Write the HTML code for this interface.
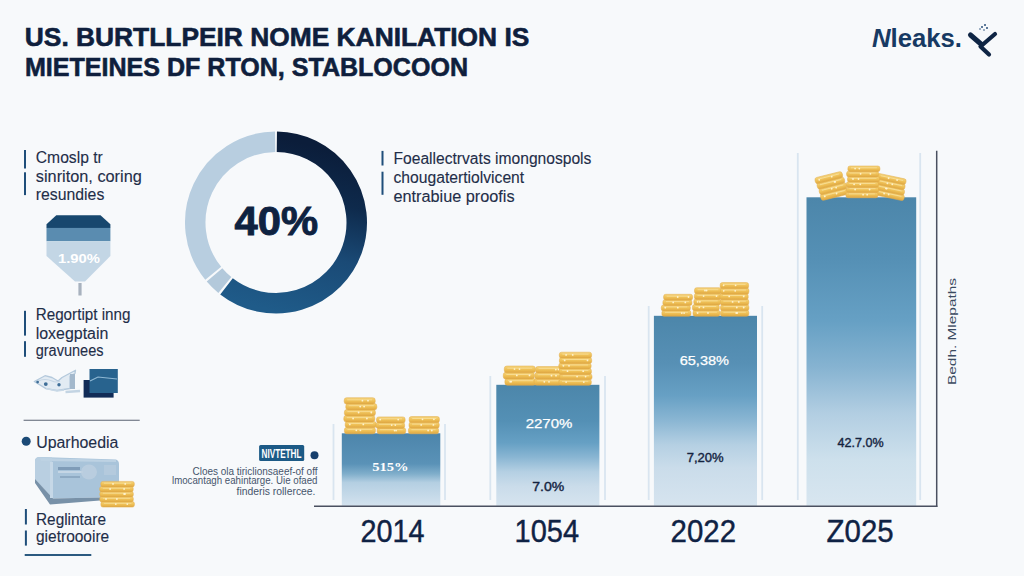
<!DOCTYPE html>
<html><head><meta charset="utf-8"><style>
html,body{margin:0;padding:0;background:#f7f9fb;width:1024px;height:576px;overflow:hidden}
svg{display:block}
text{font-family:"Liberation Sans",sans-serif}
</style></head><body>
<svg width="1024" height="576" viewBox="0 0 1024 576">
<defs>
<linearGradient id="bg4" x1="0" y1="0" x2="0" y2="1">
<stop offset="0" stop-color="#4c86aa"/><stop offset="0.2" stop-color="#5590b5"/><stop offset="0.4" stop-color="#66a0c4"/><stop offset="0.55" stop-color="#86b3d1"/><stop offset="0.7" stop-color="#b2cee2"/><stop offset="0.85" stop-color="#cde0ec"/><stop offset="1" stop-color="#d8e6f0"/>
</linearGradient>
<linearGradient id="bg3" x1="0" y1="0" x2="0" y2="1">
<stop offset="0" stop-color="#4c86aa"/><stop offset="0.25" stop-color="#5790b5"/><stop offset="0.42" stop-color="#67a0c4"/><stop offset="0.55" stop-color="#8ab6d3"/><stop offset="0.68" stop-color="#b5d0e3"/><stop offset="0.8" stop-color="#cadcea"/><stop offset="1" stop-color="#d6e4ef"/>
</linearGradient>
<linearGradient id="bg2" x1="0" y1="0" x2="0" y2="1">
<stop offset="0" stop-color="#4c86aa"/><stop offset="0.3" stop-color="#5490b5"/><stop offset="0.48" stop-color="#66a0c4"/><stop offset="0.6" stop-color="#8ab6d3"/><stop offset="0.72" stop-color="#b5d0e3"/><stop offset="0.84" stop-color="#cadcea"/><stop offset="1" stop-color="#d6e4ef"/>
</linearGradient>
<linearGradient id="bg1" x1="0" y1="0" x2="0" y2="1">
<stop offset="0" stop-color="#4c85ab"/><stop offset="0.42" stop-color="#5a92b7"/><stop offset="0.56" stop-color="#80aecb"/><stop offset="0.68" stop-color="#b4cfe2"/><stop offset="1" stop-color="#d3e2ee"/>
</linearGradient>
<linearGradient id="ring" gradientUnits="userSpaceOnUse" x1="290" y1="140" x2="250" y2="305">
<stop offset="0" stop-color="#0b1d3a"/><stop offset="0.3" stop-color="#0e2a4c"/><stop offset="0.62" stop-color="#1a4a76"/><stop offset="1" stop-color="#1f5b89"/>
</linearGradient>
<linearGradient id="coin" x1="0" y1="0" x2="0" y2="1">
<stop offset="0" stop-color="#f5d47c"/><stop offset="0.5" stop-color="#efc157"/><stop offset="1" stop-color="#dfa742"/>
</linearGradient>
<clipPath id="funclip"><polygon points="56.3,215.3 100.5,215.3 110.4,224.2 110.4,256 85,281.5 75,281.5 46.5,256 46.5,224.2"/></clipPath>
</defs>
<rect width="1024" height="576" fill="#f7f9fb"/>

<g font-weight="bold" fill="#0f1f3d" stroke="#0f1f3d" stroke-width="0.6" font-size="26">
<text x="24.8" y="46" textLength="504.5" lengthAdjust="spacingAndGlyphs">US. BURTLLPEIR NOME KANILATION IS</text>
<text x="25" y="75.5" textLength="443" lengthAdjust="spacingAndGlyphs">MIETEINES DF RTON, STABLOCOON</text>
</g>
<text x="872" y="47" font-size="26" font-weight="bold" fill="#173a63" textLength="90" lengthAdjust="spacingAndGlyphs"><tspan font-style="italic">N</tspan>leaks.</text>
<g stroke="#0f2544" stroke-width="4.2" stroke-linecap="round" stroke-linejoin="round" fill="none">
<path d="M970.5 35 L981.5 44.5" stroke-width="5"/><path d="M995 34 L980.5 46.5 L989 54.5"/>
</g>
<g fill="#2a4f7a"><circle cx="982" cy="27" r="1"/><circle cx="985" cy="25" r="1"/><circle cx="987" cy="28" r="1"/><circle cx="984" cy="30" r="0.8"/><circle cx="980" cy="29" r="0.8"/></g>
<path d="M276.85 141.75 A80.75 80.75 0 1 1 226.51 286.31" fill="none" stroke="url(#ring)" stroke-width="20.5"/>
<path d="M224.85 284.99 A80.75 80.75 0 0 1 214.51 274.84" fill="none" stroke="#b3c9db" stroke-width="20.5"/>
<path d="M213.25 273.32 A80.75 80.75 0 0 1 275.15 141.75" fill="none" stroke="#b8cee0" stroke-width="20.5"/>
<text x="234.6" y="235.1" font-size="40" font-weight="bold" fill="#0e2241" stroke="#0e2241" stroke-width="0.9" textLength="83.5" lengthAdjust="spacingAndGlyphs">40%</text>
<line x1="333.5" y1="424" x2="333.5" y2="500" stroke="#d9e5f0" stroke-width="1.8"/>
<line x1="445" y1="424" x2="445" y2="500" stroke="#d9e5f0" stroke-width="1.8"/>
<line x1="490.3" y1="376" x2="490.3" y2="500" stroke="#d9e5f0" stroke-width="1.8"/>
<line x1="605" y1="376" x2="605" y2="500" stroke="#d9e5f0" stroke-width="1.8"/>
<line x1="648.7" y1="306" x2="648.7" y2="500" stroke="#d9e5f0" stroke-width="1.8"/>
<line x1="762.2" y1="306" x2="762.2" y2="500" stroke="#d9e5f0" stroke-width="1.8"/>
<line x1="797.8" y1="153" x2="797.8" y2="500" stroke="#d9e5f0" stroke-width="1.8"/>
<line x1="920.2" y1="153" x2="920.2" y2="500" stroke="#d9e5f0" stroke-width="1.8"/>
<rect x="341.8" y="433.3" width="98.5" height="72.5" fill="url(#bg1)"/>
<rect x="496.3" y="384.8" width="103.1" height="121" fill="url(#bg2)"/>
<rect x="653.9" y="315.8" width="103.1" height="190" fill="url(#bg3)"/>
<rect x="806.5" y="197.3" width="109.7" height="308.5" fill="url(#bg4)"/>
<rect x="344.4" y="427.4" width="31.0" height="6.4" rx="2.4" fill="url(#coin)" stroke="#e2ad4a" stroke-width="0.5"/><path d="M347.4 429.4 H372.4" stroke="#fae3a0" stroke-width="0.9" opacity="0.8"/><circle cx="360.4" cy="430.3" r="0.9" fill="#fff6d8" opacity="0.9"/><circle cx="356.3" cy="430.3" r="0.9" fill="#fff6d8" opacity="0.9"/><rect x="345.2" y="421.4" width="31.0" height="6.4" rx="2.4" fill="url(#coin)" stroke="#e2ad4a" stroke-width="0.5"/><path d="M348.2 423.5 H373.2" stroke="#fae3a0" stroke-width="0.9" opacity="0.8"/><circle cx="363.3" cy="424.4" r="0.9" fill="#fff6d8" opacity="0.9"/><circle cx="349.8" cy="424.4" r="0.9" fill="#fff6d8" opacity="0.9"/><rect x="343.8" y="415.5" width="31.0" height="6.4" rx="2.4" fill="url(#coin)" stroke="#e2ad4a" stroke-width="0.5"/><path d="M346.8 417.6 H371.8" stroke="#fae3a0" stroke-width="0.9" opacity="0.8"/><circle cx="366.9" cy="418.5" r="0.9" fill="#fff6d8" opacity="0.9"/><circle cx="353.1" cy="418.5" r="0.9" fill="#fff6d8" opacity="0.9"/><rect x="344.4" y="409.6" width="31.0" height="6.4" rx="2.4" fill="url(#coin)" stroke="#e2ad4a" stroke-width="0.5"/><path d="M347.4 411.6 H372.4" stroke="#fae3a0" stroke-width="0.9" opacity="0.8"/><circle cx="371.3" cy="412.5" r="0.9" fill="#fff6d8" opacity="0.9"/><circle cx="358.6" cy="412.5" r="0.9" fill="#fff6d8" opacity="0.9"/><rect x="345.8" y="403.6" width="31.0" height="6.4" rx="2.4" fill="url(#coin)" stroke="#e2ad4a" stroke-width="0.5"/><path d="M348.8 405.7 H373.8" stroke="#fae3a0" stroke-width="0.9" opacity="0.8"/><circle cx="360.2" cy="406.6" r="0.9" fill="#fff6d8" opacity="0.9"/><circle cx="364.1" cy="406.6" r="0.9" fill="#fff6d8" opacity="0.9"/><rect x="344.2" y="397.7" width="31.0" height="6.4" rx="2.4" fill="url(#coin)" stroke="#e2ad4a" stroke-width="0.5"/><path d="M347.2 399.8 H372.2" stroke="#fae3a0" stroke-width="0.9" opacity="0.8"/><circle cx="362.4" cy="400.7" r="0.9" fill="#fff6d8" opacity="0.9"/><circle cx="368.0" cy="400.7" r="0.9" fill="#fff6d8" opacity="0.9"/>
<rect x="377.1" y="427.8" width="28.6" height="6.0" rx="2.2" fill="url(#coin)" stroke="#e2ad4a" stroke-width="0.5"/><path d="M380.1 429.7 H402.7" stroke="#fae3a0" stroke-width="0.9" opacity="0.8"/><circle cx="396.1" cy="430.6" r="0.9" fill="#fff6d8" opacity="0.9"/><circle cx="394.6" cy="430.6" r="0.9" fill="#fff6d8" opacity="0.9"/><rect x="376.0" y="422.4" width="28.6" height="6.0" rx="2.2" fill="url(#coin)" stroke="#e2ad4a" stroke-width="0.5"/><path d="M379.0 424.3 H401.6" stroke="#fae3a0" stroke-width="0.9" opacity="0.8"/><circle cx="395.3" cy="425.1" r="0.9" fill="#fff6d8" opacity="0.9"/><circle cx="391.7" cy="425.1" r="0.9" fill="#fff6d8" opacity="0.9"/><rect x="376.5" y="416.9" width="28.6" height="6.0" rx="2.2" fill="url(#coin)" stroke="#e2ad4a" stroke-width="0.5"/><path d="M379.5 418.8 H402.1" stroke="#fae3a0" stroke-width="0.9" opacity="0.8"/><circle cx="380.2" cy="419.6" r="0.9" fill="#fff6d8" opacity="0.9"/><circle cx="398.2" cy="419.6" r="0.9" fill="#fff6d8" opacity="0.9"/>
<rect x="408.4" y="427.7" width="30.2" height="6.1" rx="2.2" fill="url(#coin)" stroke="#e2ad4a" stroke-width="0.5"/><path d="M411.4 429.7 H435.6" stroke="#fae3a0" stroke-width="0.9" opacity="0.8"/><circle cx="428.1" cy="430.5" r="0.9" fill="#fff6d8" opacity="0.9"/><circle cx="431.8" cy="430.5" r="0.9" fill="#fff6d8" opacity="0.9"/><rect x="409.0" y="422.1" width="30.2" height="6.1" rx="2.2" fill="url(#coin)" stroke="#e2ad4a" stroke-width="0.5"/><path d="M412.0 424.1 H436.2" stroke="#fae3a0" stroke-width="0.9" opacity="0.8"/><circle cx="433.4" cy="424.9" r="0.9" fill="#fff6d8" opacity="0.9"/><circle cx="421.2" cy="424.9" r="0.9" fill="#fff6d8" opacity="0.9"/><rect x="409.2" y="416.5" width="30.2" height="6.1" rx="2.2" fill="url(#coin)" stroke="#e2ad4a" stroke-width="0.5"/><path d="M412.2 418.5 H436.4" stroke="#fae3a0" stroke-width="0.9" opacity="0.8"/><circle cx="422.5" cy="419.3" r="0.9" fill="#fff6d8" opacity="0.9"/><circle cx="433.9" cy="419.3" r="0.9" fill="#fff6d8" opacity="0.9"/>
<rect x="504.9" y="378.5" width="31.0" height="6.8" rx="2.5" fill="url(#coin)" stroke="#e2ad4a" stroke-width="0.5"/><path d="M507.9 380.7 H532.9" stroke="#fae3a0" stroke-width="0.9" opacity="0.8"/><circle cx="510.2" cy="381.7" r="0.9" fill="#fff6d8" opacity="0.9"/><circle cx="511.2" cy="381.7" r="0.9" fill="#fff6d8" opacity="0.9"/><rect x="503.3" y="372.3" width="31.0" height="6.8" rx="2.5" fill="url(#coin)" stroke="#e2ad4a" stroke-width="0.5"/><path d="M506.3 374.5 H531.3" stroke="#fae3a0" stroke-width="0.9" opacity="0.8"/><circle cx="529.5" cy="375.4" r="0.9" fill="#fff6d8" opacity="0.9"/><circle cx="516.8" cy="375.4" r="0.9" fill="#fff6d8" opacity="0.9"/><rect x="504.3" y="366.0" width="31.0" height="6.8" rx="2.5" fill="url(#coin)" stroke="#e2ad4a" stroke-width="0.5"/><path d="M507.3 368.2 H532.3" stroke="#fae3a0" stroke-width="0.9" opacity="0.8"/><circle cx="514.5" cy="369.1" r="0.9" fill="#fff6d8" opacity="0.9"/><circle cx="519.5" cy="369.1" r="0.9" fill="#fff6d8" opacity="0.9"/>
<rect x="534.2" y="378.7" width="27.2" height="6.6" rx="2.4" fill="url(#coin)" stroke="#e2ad4a" stroke-width="0.5"/><path d="M537.2 380.8 H558.4" stroke="#fae3a0" stroke-width="0.9" opacity="0.8"/><circle cx="544.3" cy="381.8" r="0.9" fill="#fff6d8" opacity="0.9"/><circle cx="549.0" cy="381.8" r="0.9" fill="#fff6d8" opacity="0.9"/><rect x="534.7" y="372.6" width="27.2" height="6.6" rx="2.4" fill="url(#coin)" stroke="#e2ad4a" stroke-width="0.5"/><path d="M537.7 374.7 H558.9" stroke="#fae3a0" stroke-width="0.9" opacity="0.8"/><circle cx="556.0" cy="375.7" r="0.9" fill="#fff6d8" opacity="0.9"/><circle cx="551.5" cy="375.7" r="0.9" fill="#fff6d8" opacity="0.9"/><rect x="535.5" y="366.5" width="27.2" height="6.6" rx="2.4" fill="url(#coin)" stroke="#e2ad4a" stroke-width="0.5"/><path d="M538.5 368.6 H559.7" stroke="#fae3a0" stroke-width="0.9" opacity="0.8"/><circle cx="555.8" cy="369.6" r="0.9" fill="#fff6d8" opacity="0.9"/><circle cx="558.5" cy="369.6" r="0.9" fill="#fff6d8" opacity="0.9"/>
<rect x="559.0" y="379.4" width="32.3" height="5.9" rx="2.2" fill="url(#coin)" stroke="#e2ad4a" stroke-width="0.5"/><path d="M562.0 381.3 H588.3" stroke="#fae3a0" stroke-width="0.9" opacity="0.8"/><circle cx="566.1" cy="382.1" r="0.9" fill="#fff6d8" opacity="0.9"/><circle cx="583.8" cy="382.1" r="0.9" fill="#fff6d8" opacity="0.9"/><rect x="559.7" y="373.9" width="32.3" height="5.9" rx="2.2" fill="url(#coin)" stroke="#e2ad4a" stroke-width="0.5"/><path d="M562.7 375.8 H589.0" stroke="#fae3a0" stroke-width="0.9" opacity="0.8"/><circle cx="585.6" cy="376.6" r="0.9" fill="#fff6d8" opacity="0.9"/><circle cx="577.1" cy="376.6" r="0.9" fill="#fff6d8" opacity="0.9"/><rect x="559.1" y="368.5" width="32.3" height="5.9" rx="2.2" fill="url(#coin)" stroke="#e2ad4a" stroke-width="0.5"/><path d="M562.1 370.4 H588.4" stroke="#fae3a0" stroke-width="0.9" opacity="0.8"/><circle cx="567.5" cy="371.2" r="0.9" fill="#fff6d8" opacity="0.9"/><circle cx="583.2" cy="371.2" r="0.9" fill="#fff6d8" opacity="0.9"/><rect x="558.8" y="363.1" width="32.3" height="5.9" rx="2.2" fill="url(#coin)" stroke="#e2ad4a" stroke-width="0.5"/><path d="M561.8 365.0 H588.1" stroke="#fae3a0" stroke-width="0.9" opacity="0.8"/><circle cx="569.0" cy="365.8" r="0.9" fill="#fff6d8" opacity="0.9"/><circle cx="563.4" cy="365.8" r="0.9" fill="#fff6d8" opacity="0.9"/><rect x="559.4" y="357.6" width="32.3" height="5.9" rx="2.2" fill="url(#coin)" stroke="#e2ad4a" stroke-width="0.5"/><path d="M562.4 359.5 H588.7" stroke="#fae3a0" stroke-width="0.9" opacity="0.8"/><circle cx="587.5" cy="360.4" r="0.9" fill="#fff6d8" opacity="0.9"/><circle cx="564.7" cy="360.4" r="0.9" fill="#fff6d8" opacity="0.9"/><rect x="559.3" y="352.2" width="32.3" height="5.9" rx="2.2" fill="url(#coin)" stroke="#e2ad4a" stroke-width="0.5"/><path d="M562.3 354.1 H588.6" stroke="#fae3a0" stroke-width="0.9" opacity="0.8"/><circle cx="572.7" cy="354.9" r="0.9" fill="#fff6d8" opacity="0.9"/><circle cx="566.1" cy="354.9" r="0.9" fill="#fff6d8" opacity="0.9"/>
<rect x="661.9" y="310.4" width="29.0" height="5.9" rx="2.1" fill="url(#coin)" stroke="#e2ad4a" stroke-width="0.5"/><path d="M664.9 312.3 H687.9" stroke="#fae3a0" stroke-width="0.9" opacity="0.8"/><circle cx="681.8" cy="313.1" r="0.9" fill="#fff6d8" opacity="0.9"/><circle cx="684.1" cy="313.1" r="0.9" fill="#fff6d8" opacity="0.9"/><rect x="661.3" y="305.1" width="29.0" height="5.9" rx="2.1" fill="url(#coin)" stroke="#e2ad4a" stroke-width="0.5"/><path d="M664.3 306.9 H687.3" stroke="#fae3a0" stroke-width="0.9" opacity="0.8"/><circle cx="677.8" cy="307.7" r="0.9" fill="#fff6d8" opacity="0.9"/><circle cx="665.3" cy="307.7" r="0.9" fill="#fff6d8" opacity="0.9"/><rect x="662.9" y="299.7" width="29.0" height="5.9" rx="2.1" fill="url(#coin)" stroke="#e2ad4a" stroke-width="0.5"/><path d="M665.9 301.6 H688.9" stroke="#fae3a0" stroke-width="0.9" opacity="0.8"/><circle cx="673.2" cy="302.4" r="0.9" fill="#fff6d8" opacity="0.9"/><circle cx="685.3" cy="302.4" r="0.9" fill="#fff6d8" opacity="0.9"/><rect x="663.6" y="294.3" width="29.0" height="5.9" rx="2.1" fill="url(#coin)" stroke="#e2ad4a" stroke-width="0.5"/><path d="M666.6 296.2 H689.6" stroke="#fae3a0" stroke-width="0.9" opacity="0.8"/><circle cx="677.7" cy="297.0" r="0.9" fill="#fff6d8" opacity="0.9"/><circle cx="688.5" cy="297.0" r="0.9" fill="#fff6d8" opacity="0.9"/>
<rect x="693.0" y="310.2" width="26.9" height="6.1" rx="2.2" fill="url(#coin)" stroke="#e2ad4a" stroke-width="0.5"/><path d="M696.0 312.1 H716.9" stroke="#fae3a0" stroke-width="0.9" opacity="0.8"/><circle cx="697.6" cy="313.0" r="0.9" fill="#fff6d8" opacity="0.9"/><circle cx="708.0" cy="313.0" r="0.9" fill="#fff6d8" opacity="0.9"/><rect x="692.4" y="304.6" width="26.9" height="6.1" rx="2.2" fill="url(#coin)" stroke="#e2ad4a" stroke-width="0.5"/><path d="M695.4 306.5 H716.3" stroke="#fae3a0" stroke-width="0.9" opacity="0.8"/><circle cx="699.3" cy="307.4" r="0.9" fill="#fff6d8" opacity="0.9"/><circle cx="703.5" cy="307.4" r="0.9" fill="#fff6d8" opacity="0.9"/><rect x="693.8" y="298.9" width="26.9" height="6.1" rx="2.2" fill="url(#coin)" stroke="#e2ad4a" stroke-width="0.5"/><path d="M696.8 300.9 H717.7" stroke="#fae3a0" stroke-width="0.9" opacity="0.8"/><circle cx="699.9" cy="301.8" r="0.9" fill="#fff6d8" opacity="0.9"/><circle cx="697.6" cy="301.8" r="0.9" fill="#fff6d8" opacity="0.9"/><rect x="694.4" y="293.3" width="26.9" height="6.1" rx="2.2" fill="url(#coin)" stroke="#e2ad4a" stroke-width="0.5"/><path d="M697.4 295.3 H718.3" stroke="#fae3a0" stroke-width="0.9" opacity="0.8"/><circle cx="703.6" cy="296.1" r="0.9" fill="#fff6d8" opacity="0.9"/><circle cx="716.5" cy="296.1" r="0.9" fill="#fff6d8" opacity="0.9"/><rect x="694.5" y="287.7" width="26.9" height="6.1" rx="2.2" fill="url(#coin)" stroke="#e2ad4a" stroke-width="0.5"/><path d="M697.5 289.7 H718.4" stroke="#fae3a0" stroke-width="0.9" opacity="0.8"/><circle cx="705.0" cy="290.5" r="0.9" fill="#fff6d8" opacity="0.9"/><circle cx="706.6" cy="290.5" r="0.9" fill="#fff6d8" opacity="0.9"/>
<rect x="720.4" y="310.2" width="28.4" height="6.1" rx="2.2" fill="url(#coin)" stroke="#e2ad4a" stroke-width="0.5"/><path d="M723.4 312.2 H745.8" stroke="#fae3a0" stroke-width="0.9" opacity="0.8"/><circle cx="737.2" cy="313.0" r="0.9" fill="#fff6d8" opacity="0.9"/><circle cx="736.2" cy="313.0" r="0.9" fill="#fff6d8" opacity="0.9"/><rect x="720.5" y="304.7" width="28.4" height="6.1" rx="2.2" fill="url(#coin)" stroke="#e2ad4a" stroke-width="0.5"/><path d="M723.5 306.6 H745.9" stroke="#fae3a0" stroke-width="0.9" opacity="0.8"/><circle cx="736.8" cy="307.5" r="0.9" fill="#fff6d8" opacity="0.9"/><circle cx="743.7" cy="307.5" r="0.9" fill="#fff6d8" opacity="0.9"/><rect x="720.4" y="299.1" width="28.4" height="6.1" rx="2.2" fill="url(#coin)" stroke="#e2ad4a" stroke-width="0.5"/><path d="M723.4 301.1 H745.8" stroke="#fae3a0" stroke-width="0.9" opacity="0.8"/><circle cx="732.6" cy="301.9" r="0.9" fill="#fff6d8" opacity="0.9"/><circle cx="738.8" cy="301.9" r="0.9" fill="#fff6d8" opacity="0.9"/><rect x="719.8" y="293.6" width="28.4" height="6.1" rx="2.2" fill="url(#coin)" stroke="#e2ad4a" stroke-width="0.5"/><path d="M722.8 295.5 H745.2" stroke="#fae3a0" stroke-width="0.9" opacity="0.8"/><circle cx="729.2" cy="296.4" r="0.9" fill="#fff6d8" opacity="0.9"/><circle cx="743.7" cy="296.4" r="0.9" fill="#fff6d8" opacity="0.9"/><rect x="720.5" y="288.1" width="28.4" height="6.1" rx="2.2" fill="url(#coin)" stroke="#e2ad4a" stroke-width="0.5"/><path d="M723.5 290.0 H745.9" stroke="#fae3a0" stroke-width="0.9" opacity="0.8"/><circle cx="735.2" cy="290.8" r="0.9" fill="#fff6d8" opacity="0.9"/><circle cx="723.7" cy="290.8" r="0.9" fill="#fff6d8" opacity="0.9"/><rect x="720.2" y="282.5" width="28.4" height="6.1" rx="2.2" fill="url(#coin)" stroke="#e2ad4a" stroke-width="0.5"/><path d="M723.2 284.4 H745.6" stroke="#fae3a0" stroke-width="0.9" opacity="0.8"/><circle cx="735.6" cy="285.3" r="0.9" fill="#fff6d8" opacity="0.9"/><circle cx="723.6" cy="285.3" r="0.9" fill="#fff6d8" opacity="0.9"/>
<g transform="rotate(-14 832 186)"><rect x="818.3" y="191.5" width="28.0" height="6.3" rx="2.3" fill="url(#coin)" stroke="#e2ad4a" stroke-width="0.5"/><path d="M821.3 193.5 H843.3" stroke="#fae3a0" stroke-width="0.9" opacity="0.8"/><circle cx="834.6" cy="194.4" r="0.9" fill="#fff6d8" opacity="0.9"/><circle cx="822.5" cy="194.4" r="0.9" fill="#fff6d8" opacity="0.9"/><rect x="818.3" y="185.7" width="28.0" height="6.3" rx="2.3" fill="url(#coin)" stroke="#e2ad4a" stroke-width="0.5"/><path d="M821.3 187.7 H843.3" stroke="#fae3a0" stroke-width="0.9" opacity="0.8"/><circle cx="831.1" cy="188.6" r="0.9" fill="#fff6d8" opacity="0.9"/><circle cx="835.6" cy="188.6" r="0.9" fill="#fff6d8" opacity="0.9"/><rect x="817.6" y="179.8" width="28.0" height="6.3" rx="2.3" fill="url(#coin)" stroke="#e2ad4a" stroke-width="0.5"/><path d="M820.6 181.9 H842.6" stroke="#fae3a0" stroke-width="0.9" opacity="0.8"/><circle cx="835.5" cy="182.7" r="0.9" fill="#fff6d8" opacity="0.9"/><circle cx="836.1" cy="182.7" r="0.9" fill="#fff6d8" opacity="0.9"/><rect x="816.9" y="174.0" width="28.0" height="6.3" rx="2.3" fill="url(#coin)" stroke="#e2ad4a" stroke-width="0.5"/><path d="M819.9 176.0 H841.9" stroke="#fae3a0" stroke-width="0.9" opacity="0.8"/><circle cx="821.1" cy="176.9" r="0.9" fill="#fff6d8" opacity="0.9"/><circle cx="834.0" cy="176.9" r="0.9" fill="#fff6d8" opacity="0.9"/></g>
<g transform="rotate(12 890 187)"><rect x="877.1" y="192.0" width="29.0" height="5.8" rx="2.1" fill="url(#coin)" stroke="#e2ad4a" stroke-width="0.5"/><path d="M880.1 193.8 H903.1" stroke="#fae3a0" stroke-width="0.9" opacity="0.8"/><circle cx="885.6" cy="194.6" r="0.9" fill="#fff6d8" opacity="0.9"/><circle cx="890.2" cy="194.6" r="0.9" fill="#fff6d8" opacity="0.9"/><rect x="876.2" y="186.7" width="29.0" height="5.8" rx="2.1" fill="url(#coin)" stroke="#e2ad4a" stroke-width="0.5"/><path d="M879.2 188.5 H902.2" stroke="#fae3a0" stroke-width="0.9" opacity="0.8"/><circle cx="886.3" cy="189.3" r="0.9" fill="#fff6d8" opacity="0.9"/><circle cx="887.2" cy="189.3" r="0.9" fill="#fff6d8" opacity="0.9"/><rect x="875.6" y="181.3" width="29.0" height="5.8" rx="2.1" fill="url(#coin)" stroke="#e2ad4a" stroke-width="0.5"/><path d="M878.6 183.2 H901.6" stroke="#fae3a0" stroke-width="0.9" opacity="0.8"/><circle cx="886.7" cy="184.0" r="0.9" fill="#fff6d8" opacity="0.9"/><circle cx="891.7" cy="184.0" r="0.9" fill="#fff6d8" opacity="0.9"/><rect x="875.5" y="176.0" width="29.0" height="5.8" rx="2.1" fill="url(#coin)" stroke="#e2ad4a" stroke-width="0.5"/><path d="M878.5 177.9 H901.5" stroke="#fae3a0" stroke-width="0.9" opacity="0.8"/><circle cx="886.8" cy="178.7" r="0.9" fill="#fff6d8" opacity="0.9"/><circle cx="895.5" cy="178.7" r="0.9" fill="#fff6d8" opacity="0.9"/></g>
<rect x="845.9" y="192.1" width="32.0" height="5.7" rx="2.1" fill="url(#coin)" stroke="#e2ad4a" stroke-width="0.5"/><path d="M848.9 193.9 H874.9" stroke="#fae3a0" stroke-width="0.9" opacity="0.8"/><circle cx="863.1" cy="194.7" r="0.9" fill="#fff6d8" opacity="0.9"/><circle cx="867.2" cy="194.7" r="0.9" fill="#fff6d8" opacity="0.9"/><rect x="846.5" y="186.9" width="32.0" height="5.7" rx="2.1" fill="url(#coin)" stroke="#e2ad4a" stroke-width="0.5"/><path d="M849.5 188.7 H875.5" stroke="#fae3a0" stroke-width="0.9" opacity="0.8"/><circle cx="855.1" cy="189.5" r="0.9" fill="#fff6d8" opacity="0.9"/><circle cx="869.6" cy="189.5" r="0.9" fill="#fff6d8" opacity="0.9"/><rect x="846.4" y="181.7" width="32.0" height="5.7" rx="2.1" fill="url(#coin)" stroke="#e2ad4a" stroke-width="0.5"/><path d="M849.4 183.5 H875.4" stroke="#fae3a0" stroke-width="0.9" opacity="0.8"/><circle cx="854.1" cy="184.3" r="0.9" fill="#fff6d8" opacity="0.9"/><circle cx="860.3" cy="184.3" r="0.9" fill="#fff6d8" opacity="0.9"/><rect x="847.5" y="176.4" width="32.0" height="5.7" rx="2.1" fill="url(#coin)" stroke="#e2ad4a" stroke-width="0.5"/><path d="M850.5 178.3 H876.5" stroke="#fae3a0" stroke-width="0.9" opacity="0.8"/><circle cx="853.0" cy="179.0" r="0.9" fill="#fff6d8" opacity="0.9"/><circle cx="858.5" cy="179.0" r="0.9" fill="#fff6d8" opacity="0.9"/><rect x="846.6" y="171.2" width="32.0" height="5.7" rx="2.1" fill="url(#coin)" stroke="#e2ad4a" stroke-width="0.5"/><path d="M849.6 173.0 H875.6" stroke="#fae3a0" stroke-width="0.9" opacity="0.8"/><circle cx="870.4" cy="173.8" r="0.9" fill="#fff6d8" opacity="0.9"/><circle cx="860.6" cy="173.8" r="0.9" fill="#fff6d8" opacity="0.9"/><rect x="847.9" y="166.0" width="32.0" height="5.7" rx="2.1" fill="url(#coin)" stroke="#e2ad4a" stroke-width="0.5"/><path d="M850.9 167.8 H876.9" stroke="#fae3a0" stroke-width="0.9" opacity="0.8"/><circle cx="855.1" cy="168.6" r="0.9" fill="#fff6d8" opacity="0.9"/><circle cx="859.3" cy="168.6" r="0.9" fill="#fff6d8" opacity="0.9"/>
<g font-size="13.5">
<text x="372.2" y="471.2" fill="#ffffff" font-weight="bold" textLength="36.4" lengthAdjust="spacingAndGlyphs" style="font-family:'Liberation Serif',serif">515%</text>
<g fill="#ffffff" stroke="#ffffff" stroke-width="0.25" font-size="13">
<text x="525.7" y="427.8" textLength="46.7" lengthAdjust="spacingAndGlyphs">2270%</text>
<text x="679.7" y="365" textLength="49.3" lengthAdjust="spacingAndGlyphs">65,38%</text>
</g>
<g fill="#14233f" stroke="#14233f" stroke-width="0.4">
<text x="532.3" y="491.1" textLength="32" lengthAdjust="spacingAndGlyphs">7.0%</text>
<text x="686.7" y="462.1" textLength="37" lengthAdjust="spacingAndGlyphs">7,20%</text>
<text x="837.6" y="446.5" textLength="46" lengthAdjust="spacingAndGlyphs">42.7.0%</text>
</g>
</g>
<line x1="314" y1="506.2" x2="937.4" y2="506.2" stroke="#4a5060" stroke-width="1.5"/>
<line x1="936.7" y1="150.8" x2="936.7" y2="506.9" stroke="#4a5060" stroke-width="1.5"/>
<text transform="translate(955.8,385) rotate(-90)" font-size="11.5" fill="#3a4a60" textLength="107" lengthAdjust="spacingAndGlyphs">Bedh. Mlepaths</text>
<g font-size="30.5" fill="#0f2244" stroke="#0f2244" stroke-width="0.4">
<text x="360.6" y="541.7" textLength="64" lengthAdjust="spacingAndGlyphs">2014</text>
<text x="514.6" y="541.7" textLength="64.5" lengthAdjust="spacingAndGlyphs">1054</text>
<text x="670.6" y="541.7" textLength="65.5" lengthAdjust="spacingAndGlyphs">2022</text>
<text x="826.6" y="541.7" textLength="67" lengthAdjust="spacingAndGlyphs">Z025</text>
</g>
<rect x="259.1" y="445" width="45.1" height="16" rx="1.5" fill="#1c5a86"/>
<text x="261.5" y="458" font-size="12" font-weight="bold" fill="#ffffff" textLength="40" lengthAdjust="spacingAndGlyphs">NIVTETHL</text>
<circle cx="314.5" cy="455.2" r="4" fill="#173f6c"/>
<g font-size="10.5" fill="#46556c" text-anchor="end">
<text x="317.5" y="474.5" textLength="125" lengthAdjust="spacingAndGlyphs">Cloes ola tiriclionsaeef-of off</text>
<text x="317.5" y="484.2" textLength="145.5" lengthAdjust="spacingAndGlyphs">lmocantagh eahintarge. Uie ofaed</text>
<text x="315.5" y="495" textLength="79" lengthAdjust="spacingAndGlyphs">finderis rollercee.</text>
</g>
<rect x="24" y="150" width="2" height="18.5" fill="#1f4e7a"/>
<rect x="24" y="172.3" width="2" height="22.8" fill="#1f4e7a"/>
<g font-size="16" fill="#1f2e49" stroke="#1f2e49" stroke-width="0.12">
<text x="35.8" y="162.8" textLength="67.0" lengthAdjust="spacingAndGlyphs">Cmoslp tr</text>
<text x="35.8" y="181.8" textLength="106.0" lengthAdjust="spacingAndGlyphs">sinriton, coring</text>
<text x="35.8" y="199.6" textLength="68.5" lengthAdjust="spacingAndGlyphs">resundies</text>
</g>
<g clip-path="url(#funclip)">
<rect x="40" y="210" width="80" height="18" fill="#17476e"/>
<rect x="40" y="227.9" width="80" height="13.3" fill="#5a8cb0"/>
<rect x="40" y="241.2" width="80" height="45" fill="#c3d6e5"/>
</g>
<rect x="78.4" y="283" width="3.2" height="12.5" fill="#a8b2be"/>
<text x="58" y="263.3" font-size="13.5" font-weight="bold" fill="#ffffff" textLength="42" lengthAdjust="spacingAndGlyphs">1.90%</text>
<rect x="24" y="310.8" width="2" height="24.8" fill="#1f4e7a"/>
<rect x="24" y="341.2" width="2" height="15.6" fill="#1f4e7a"/>
<g font-size="16" fill="#1f2e49" stroke="#1f2e49" stroke-width="0.12">
<text x="35.7" y="320.4" textLength="94.8" lengthAdjust="spacingAndGlyphs">Regortipt inng</text>
<text x="35.7" y="338.6" textLength="72.7" lengthAdjust="spacingAndGlyphs">loxegptain</text>
<text x="35.7" y="356" textLength="67.8" lengthAdjust="spacingAndGlyphs">gravunees</text>
</g>
<path d="M34.3 381.5 L45 375.7 L52 377.5 L58 381 L62 377.5 L75.5 370.2 L75 373.5 L70 376 L70 388.5 L57 390.5 L46 388.6 Z" fill="#e2ebf3" stroke="#b4c9dc" stroke-width="1.3" stroke-linejoin="round"/>
<path d="M38 381 Q45 378 52 381 Q56 383 60 381" stroke="#c4d5e4" stroke-width="1.2" fill="none"/>
<rect x="70" y="374" width="5" height="15" fill="#a3b8cc"/>
<path d="M65.5 392 L80 391" stroke="#c3d4e3" stroke-width="2.6"/>
<path d="M46 388.5 L57 391 L64 390" stroke="#c9d9e7" stroke-width="1.6" fill="none"/>
<g fill="#3e6e98"><circle cx="37.6" cy="382.1" r="1.4"/><circle cx="45.8" cy="384.1" r="1.9"/><circle cx="59" cy="384.8" r="1.7"/></g>
<rect x="83.6" y="380" width="30" height="17.6" fill="#112c57"/>
<rect x="89.5" y="369" width="28.3" height="24" fill="#28638e"/>
<path d="M90 381 L98 377 L117 379" stroke="#8fb8d4" stroke-width="1.2" fill="none"/>
<line x1="23.6" y1="420.3" x2="139.7" y2="420.3" stroke="#5a6272" stroke-width="1.1"/>
<circle cx="26.2" cy="441.3" r="4.5" fill="#1b4a76"/>
<text x="36.2" y="447.6" font-size="16" fill="#1f2e49" stroke="#1f2e49" stroke-width="0.12" textLength="82.2" lengthAdjust="spacingAndGlyphs">Uparhoedia</text>
<path d="M35 461 Q35 457 40 457 L116 459.5 Q119 460.5 119 464 L119 491 L100 497.5 L53 498.5 L35 479 Z" fill="#a9c4da"/>
<path d="M35 461 Q35 457 40 457 L52 457.5 L53 498.5 L35 479 Z" fill="#b9cfe1"/>
<path d="M40 458 L116 460 L116 462 L41 461 Z" fill="#bdd2e3"/>
<path d="M35 479 L53 498.5 L100 497.5 L119 491 L119 494.5 L100 500.5 L50 504.5 L35 483 Z" fill="#7891a8"/>
<rect x="50" y="462" width="3" height="36" fill="#c6d8e7"/>
<rect x="58" y="467" width="22" height="3" fill="#7f9cb8"/>
<rect x="58" y="471" width="25" height="2" fill="#c5d6e5"/>
<rect x="60" y="476" width="20" height="2" fill="#8eaac3"/>
<ellipse cx="89" cy="472" rx="8" ry="7.5" fill="#bccfdf" opacity="0.85"/>
<rect x="104" y="465" width="12" height="10" fill="#b4cadd"/>
<rect x="100.9" y="501.6" width="33.5" height="5.5" rx="2.0" fill="url(#coin)" stroke="#e2ad4a" stroke-width="0.5"/><path d="M103.9 503.3 H131.4" stroke="#fae3a0" stroke-width="0.9" opacity="0.8"/><circle cx="127.3" cy="504.1" r="0.9" fill="#fff6d8" opacity="0.9"/><circle cx="115.8" cy="504.1" r="0.9" fill="#fff6d8" opacity="0.9"/><rect x="99.8" y="496.5" width="33.5" height="5.5" rx="2.0" fill="url(#coin)" stroke="#e2ad4a" stroke-width="0.5"/><path d="M102.8 498.3 H130.3" stroke="#fae3a0" stroke-width="0.9" opacity="0.8"/><circle cx="106.0" cy="499.0" r="0.9" fill="#fff6d8" opacity="0.9"/><circle cx="116.9" cy="499.0" r="0.9" fill="#fff6d8" opacity="0.9"/><rect x="99.8" y="491.5" width="33.5" height="5.5" rx="2.0" fill="url(#coin)" stroke="#e2ad4a" stroke-width="0.5"/><path d="M102.8 493.2 H130.3" stroke="#fae3a0" stroke-width="0.9" opacity="0.8"/><circle cx="124.1" cy="494.0" r="0.9" fill="#fff6d8" opacity="0.9"/><circle cx="125.0" cy="494.0" r="0.9" fill="#fff6d8" opacity="0.9"/><rect x="99.7" y="486.4" width="33.5" height="5.5" rx="2.0" fill="url(#coin)" stroke="#e2ad4a" stroke-width="0.5"/><path d="M102.7 488.2 H130.2" stroke="#fae3a0" stroke-width="0.9" opacity="0.8"/><circle cx="110.1" cy="489.0" r="0.9" fill="#fff6d8" opacity="0.9"/><circle cx="124.1" cy="489.0" r="0.9" fill="#fff6d8" opacity="0.9"/><rect x="100.8" y="481.4" width="33.5" height="5.5" rx="2.0" fill="url(#coin)" stroke="#e2ad4a" stroke-width="0.5"/><path d="M103.8 483.2 H131.3" stroke="#fae3a0" stroke-width="0.9" opacity="0.8"/><circle cx="125.2" cy="483.9" r="0.9" fill="#fff6d8" opacity="0.9"/><circle cx="113.0" cy="483.9" r="0.9" fill="#fff6d8" opacity="0.9"/>
<rect x="24.9" y="509" width="2" height="15.5" fill="#1f4e7a"/>
<rect x="24.9" y="530.5" width="2" height="15.1" fill="#1f4e7a"/>
<g font-size="16" fill="#1f2e49" stroke="#1f2e49" stroke-width="0.12">
<text x="36.0" y="524.6" textLength="70.0" lengthAdjust="spacingAndGlyphs">Reglintare</text>
<text x="36.0" y="542.1" textLength="73.2" lengthAdjust="spacingAndGlyphs">gietroooire</text>
</g>
<rect x="24.7" y="554" width="66.6" height="2" fill="#2b5a80"/>
<rect x="381.5" y="150.9" width="2" height="14.6" fill="#1f4e7a"/>
<rect x="381.5" y="171.7" width="2" height="23.1" fill="#1f4e7a"/>
<g font-size="16" fill="#1f2e49" stroke="#1f2e49" stroke-width="0.12">
<text x="393.5" y="163.75" textLength="197.9" lengthAdjust="spacingAndGlyphs">Foeallectrvats imongnospols</text>
<text x="393.5" y="183.1" textLength="130.7" lengthAdjust="spacingAndGlyphs">chougatertiolvicent</text>
<text x="393.5" y="201.8" textLength="121.1" lengthAdjust="spacingAndGlyphs">entrabiue proofis</text>
</g>
</svg>
</body></html>
